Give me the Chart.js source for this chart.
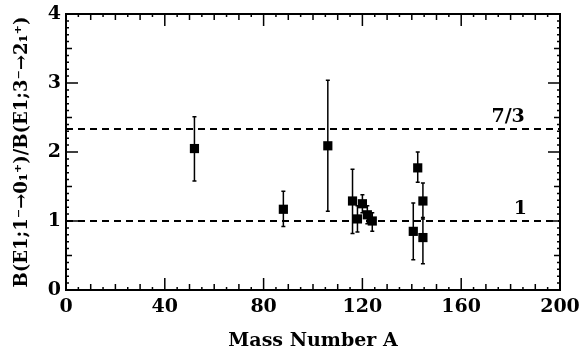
<!DOCTYPE html>
<html>
<head>
<meta charset="utf-8">
<script src="https://cdn.jsdelivr.net/npm/chart.js@4"></script>
<style>
  html, body { margin: 0; padding: 0; background: #fff; }
  #wrap { width: 584px; height: 355px; }
</style>
</head>
<body>
<div id="wrap"><canvas id="myChart"></canvas></div>
<script>
// values
var massNumbers = [52, 88, 106, 116, 118, 120, 122, 124, 140.6, 142.4, 144.5, 144.5];
var ratios      = [2.05, 1.17, 2.09, 1.29, 1.03, 1.25, 1.09, 1.00, 0.85, 1.77, 1.29, 0.76];
var errLow      = [1.58, 0.92, 1.14, 0.82, 0.84, 1.12, 0.96, 0.85, 0.44, 1.56, 1.03, 0.38];
var errHigh     = [2.51, 1.43, 3.04, 1.75, 1.22, 1.38, 1.22, 1.12, 1.26, 2.00, 1.55, 1.05];
var refLines    = [1, 7 / 3];
var refLabels   = ['1', '7/3'];
var refLabelX   = [184, 179];
var xTicks      = [0, 40, 80, 120, 160, 200];
var yTicks      = [0, 1, 2, 3, 4];

var serif = "'DejaVu Serif', 'Liberation Serif', serif";

var points = massNumbers.map(function (a, i) { return { x: a, y: ratios[i] }; });

var refSets = refLines.map(function (v) {
  return {
    type: 'line',
    data: [{ x: 0, y: v }, { x: 200, y: v }],
    borderColor: '#000',
    borderWidth: 2,
    borderDash: [7, 5],
    pointRadius: 0,
    fill: false
  };
});

var errorBars = {
  id: 'errorBars',
  beforeDatasetsDraw: function (chart) {
    var ctx = chart.ctx, xs = chart.scales.x, ys = chart.scales.y;
    ctx.save();
    ctx.strokeStyle = '#000';
    ctx.lineWidth = 1.5;
    massNumbers.forEach(function (a, i) {
      var px = xs.getPixelForValue(a);
      var y1 = ys.getPixelForValue(errLow[i]);
      var y2 = ys.getPixelForValue(errHigh[i]);
      ctx.beginPath();
      ctx.moveTo(px, y1); ctx.lineTo(px, y2);
      ctx.moveTo(px - 2, y1); ctx.lineTo(px + 2, y1);
      ctx.moveTo(px - 2, y2); ctx.lineTo(px + 2, y2);
      ctx.stroke();
    });
    ctx.restore();
  }
};

var frame = {
  id: 'frame',
  afterDatasetsDraw: function (chart) {
    var ctx = chart.ctx, a = chart.chartArea, xs = chart.scales.x, ys = chart.scales.y;
    ctx.save();
    ctx.strokeStyle = '#000';
    ctx.lineWidth = 2;
    ctx.strokeRect(a.left, a.top, a.right - a.left, a.bottom - a.top);
    ctx.lineWidth = 1.5;
    ctx.beginPath();
    for (var v = 0; v <= 200; v += 5) {
      var len = v % 40 === 0 ? 12 : (v % 10 === 0 ? 6 : 3);
      var px = xs.getPixelForValue(v);
      ctx.moveTo(px, a.bottom); ctx.lineTo(px, a.bottom - len);
      ctx.moveTo(px, a.top); ctx.lineTo(px, a.top + len);
    }
    for (var k = 0; k <= 40; k++) {
      var l = k % 10 === 0 ? 12 : (k % 5 === 0 ? 6 : 3);
      var py = ys.getPixelForValue(k / 10);
      ctx.moveTo(a.left, py); ctx.lineTo(a.left + l, py);
      ctx.moveTo(a.right, py); ctx.lineTo(a.right - l, py);
    }
    ctx.stroke();

    ctx.fillStyle = '#000';
    ctx.font = 'bold 19px ' + serif;
    ctx.textAlign = 'center';
    ctx.textBaseline = 'bottom';
    refLines.forEach(function (v, i) {
      ctx.fillText(refLabels[i], xs.getPixelForValue(refLabelX[i]), ys.getPixelForValue(v) - 2);
    });
    ctx.restore();
  }
};

var myChart = new Chart('myChart', {
  type: 'scatter',
  data: {
    datasets: [{
      data: points,
      backgroundColor: '#000',
      borderColor: '#000',
      pointStyle: 'rect',
      pointRadius: 6.5,
      pointHoverRadius: 6.5,
      borderWidth: 0
    }].concat(refSets)
  },
  options: {
    animation: false,
    responsive: true,
    maintainAspectRatio: false,
    layout: { padding: { top: 14, right: 24, left: 0, bottom: 0 } },
    plugins: { legend: { display: false }, tooltip: { enabled: false } },
    scales: {
      x: {
        type: 'linear',
        min: 0, max: 200,
        afterFit: function (s) { s.height = 65; s.paddingLeft = 0; s.paddingRight = 0; },
        afterBuildTicks: function (s) { s.ticks = xTicks.map(function (v) { return { value: v }; }); },
        grid: { display: false, drawTicks: false },
        border: { display: false },
        ticks: { color: '#000', padding: 6, maxRotation: 0, font: { family: serif, size: 19, weight: 'bold' } },
        title: {
          display: true,
          text: 'Mass Number A',
          color: '#000',
          padding: { top: 0, bottom: 3 },
          font: { family: serif, size: 19, weight: 'bold' }
        }
      },
      y: {
        type: 'linear',
        min: 0, max: 4,
        afterFit: function (s) { s.width = 66; s.paddingTop = 0; s.paddingBottom = 0; },
        afterBuildTicks: function (s) { s.ticks = yTicks.map(function (v) { return { value: v }; }); },
        grid: { display: false, drawTicks: false },
        border: { display: false },
        ticks: { color: '#000', padding: 5, font: { family: serif, size: 19, weight: 'bold' } },
        title: {
          display: true,
          text: 'B(E1;1\u207B\u21920\u2081\u207A)/B(E1;3\u207B\u21922\u2081\u207A)',
          color: '#000',
          padding: { top: 12, bottom: 0 },
          font: { family: serif, size: 18, weight: 'bold' }
        }
      }
    }
  },
  plugins: [errorBars, frame]
});
</script>
</body>
</html>
